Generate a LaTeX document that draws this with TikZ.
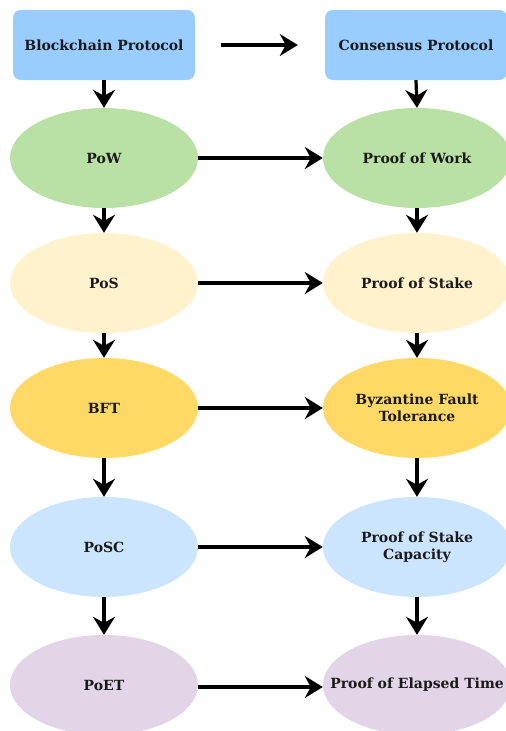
\documentclass[tikz,border=0pt]{standalone}
\usepackage{fontspec}
\setmainfont{DejaVu Serif}
\usetikzlibrary{shapes.geometric,arrows.meta}
\definecolor{boxblue}{HTML}{99CCFF}
\definecolor{powgreen}{HTML}{B9E0A5}
\definecolor{posyellow}{HTML}{FFF2CC}
\definecolor{bftgold}{HTML}{FFD966}
\definecolor{poscblue}{HTML}{CCE5FF}
\definecolor{poetlilac}{HTML}{E1D5E7}
\definecolor{txt}{HTML}{1A1A1A}
\tikzset{
  lbl/.style={font=\bfseries\fontsize{14}{17}\selectfont, text=txt, align=center},
  protobox/.style={lbl, fill=boxblue, rounded corners=8pt, minimum width=182pt, minimum height=70pt, inner sep=0pt},
  algo/.style={lbl, ellipse, minimum width=188pt, minimum height=100pt, inner sep=0pt},
  arr/.style={line width=3.2pt, -{Stealth[length=18pt,width=22pt,inset=6pt]}},
}
\begin{document}
\begin{tikzpicture}[x=1pt,y=-1pt]
\useasboundingbox (0,0) rectangle (506,731);
\clip (0,0) rectangle (506,731);
\fill[white] (0,0) rectangle (506,731);

% top row: protocol layers
\node[protobox] (bp) at (104,45) {Blockchain Protocol};
\node[protobox] (cp) at (416,45) {Consensus Protocol};

% left column: abbreviations
\node[algo, fill=powgreen]  (pow)  at (104,158) {PoW};
\node[algo, fill=posyellow] (pos)  at (104,283) {PoS};
\node[algo, fill=bftgold]   (bft)  at (104,408) {BFT};
\node[algo, fill=poscblue]  (posc) at (104,547) {PoSC};
\node[algo, fill=poetlilac] (poet) at (104,685) {PoET};

% right column: full names (the last label overflows its ellipse)
\node[algo, fill=powgreen]  (rpow)  at (417,158) {Proof of Work};
\node[algo, fill=posyellow] (rpos)  at (417,283) {Proof of Stake};
\node[algo, fill=bftgold]   (rbft)  at (417,408) {Byzantine Fault\\Tolerance};
\node[algo, fill=poscblue]  (rposc) at (417,547) {Proof of Stake\\Capacity};
\node[algo, fill=poetlilac] (rpoet) at (417,685) {\makebox[0pt]{Proof of Elapsed Time}};

% horizontal links
\draw[arr] ([xshift=26pt]bp.east) -- ([xshift=-27pt]cp.west);
\draw[arr] (pow.east)  -- (rpow.west);
\draw[arr] (pos.east)  -- (rpos.west);
\draw[arr] (bft.east)  -- (rbft.west);
\draw[arr] (posc.east) -- (rposc.west);
\draw[arr] ([yshift=-2pt]poet.east) -- ([yshift=-2pt]rpoet.west);

% vertical links, left column
\draw[arr] (bp.south)   -- (pow.north);
\draw[arr] (pow.south)  -- (pos.north);
\draw[arr] (pos.south)  -- (bft.north);
\draw[arr] (bft.south)  -- (posc.north);
\draw[arr] (posc.south) -- (poet.north);

% vertical links, right column
\draw[arr] (cp.south)    -- (rpow.north);
\draw[arr] (rpow.south)  -- (rpos.north);
\draw[arr] (rpos.south)  -- (rbft.north);
\draw[arr] (rbft.south)  -- (rposc.north);
\draw[arr] (rposc.south) -- (rpoet.north);
\end{tikzpicture}
\end{document}
